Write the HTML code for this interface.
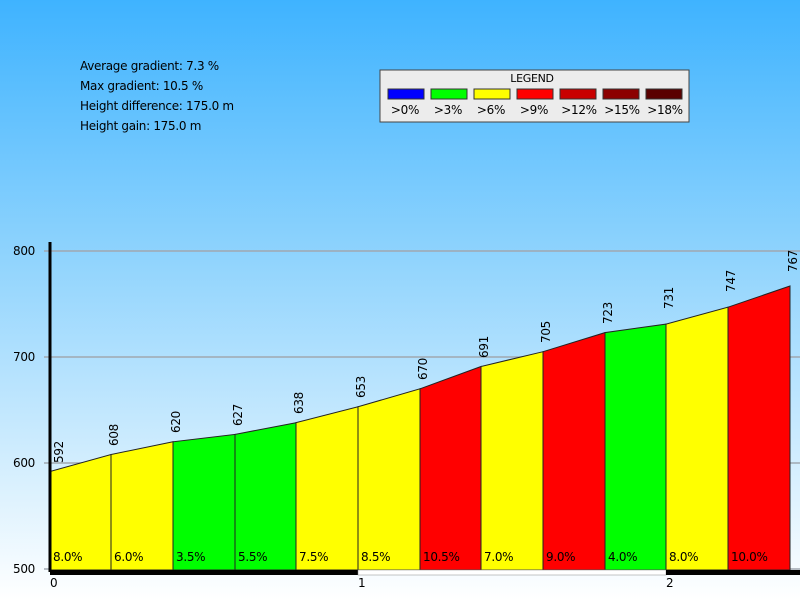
<!DOCTYPE html>
<html><head><style>
body{margin:0;width:800px;height:600px;overflow:hidden;font-family:"Liberation Sans","DejaVu Sans",sans-serif}
</style></head><body>
<svg width="800" height="600" xmlns="http://www.w3.org/2000/svg" font-family="DejaVu Sans, Liberation Sans, sans-serif" letter-spacing="-0.3">
<defs><linearGradient id="bg" x1="0" y1="0" x2="0" y2="1">
<stop offset="0" stop-color="#3fb3ff"/><stop offset="0.42" stop-color="#8ed3fd"/><stop offset="1" stop-color="#ffffff"/></linearGradient></defs>
<rect width="800" height="600" fill="url(#bg)"/>
<g font-size="12" fill="#000">
<text x="80" y="70">Average gradient: 7.3 %</text>
<text x="80" y="90">Max gradient: 10.5 %</text>
<text x="80" y="110">Height difference: 175.0 m</text>
<text x="80" y="130">Height gain: 175.0 m</text>
</g>
<rect x="380" y="70" width="309" height="52" fill="#ececec" stroke="#444" stroke-width="1"/>
<text x="532" y="82" font-size="11" text-anchor="middle">LEGEND</text>
<g stroke="#333" stroke-width="1">
<rect x="388" y="89" width="36" height="10" fill="#0000ff"/>
<rect x="431" y="89" width="36" height="10" fill="#00ff00"/>
<rect x="474" y="89" width="36" height="10" fill="#ffff00"/>
<rect x="517" y="89" width="36" height="10" fill="#ff0000"/>
<rect x="560" y="89" width="36" height="10" fill="#c80000"/>
<rect x="603" y="89" width="36" height="10" fill="#8c0000"/>
<rect x="646" y="89" width="36" height="10" fill="#5a0000"/>
</g>
<g font-size="12" text-anchor="middle">
<text x="405" y="114">&gt;0%</text><text x="448" y="114">&gt;3%</text><text x="491" y="114">&gt;6%</text><text x="534" y="114">&gt;9%</text><text x="579" y="114">&gt;12%</text><text x="622" y="114">&gt;15%</text><text x="665" y="114">&gt;18%</text>
</g>
<g stroke="#a0a8b0" stroke-width="1.5">
<line x1="44" y1="251" x2="800" y2="251"/><line x1="44" y1="357" x2="800" y2="357"/><line x1="44" y1="463" x2="800" y2="463"/><line x1="44" y1="569" x2="800" y2="569"/>
</g>
<g font-size="12" text-anchor="end">
<text x="35" y="255">800</text><text x="35" y="361">700</text><text x="35" y="467">600</text><text x="35" y="573">500</text>
</g>
<g stroke="#222" stroke-width="1">
<polygon points="50,570 50,471.5 111,454.5 111,570" fill="#ffff00"/>
<polygon points="111,570 111,454.5 173,441.8 173,570" fill="#ffff00"/>
<polygon points="173,570 173,441.8 235,434.4 235,570" fill="#00ff00"/>
<polygon points="235,570 235,434.4 296,422.7 296,570" fill="#00ff00"/>
<polygon points="296,570 296,422.7 358,406.8 358,570" fill="#ffff00"/>
<polygon points="358,570 358,406.8 420,388.8 420,570" fill="#ffff00"/>
<polygon points="420,570 420,388.8 481,366.5 481,570" fill="#ff0000"/>
<polygon points="481,570 481,366.5 543,351.7 543,570" fill="#ffff00"/>
<polygon points="543,570 543,351.7 605,332.6 605,570" fill="#ff0000"/>
<polygon points="605,570 605,332.6 666,324.1 666,570" fill="#00ff00"/>
<polygon points="666,570 666,324.1 728,307.2 728,570" fill="#ffff00"/>
<polygon points="728,570 728,307.2 790,286 790,570" fill="#ff0000"/>
</g>
<line x1="50" y1="242" x2="50" y2="572" stroke="#000" stroke-width="3"/>
<rect x="50" y="570" width="308" height="5" fill="#000"/>
<rect x="358" y="570" width="308" height="5" fill="#fff" stroke="#888" stroke-width="0.5"/>
<rect x="666" y="570" width="134" height="5" fill="#000"/>
<g font-size="12">
<text x="50" y="587">0</text><text x="358" y="587">1</text><text x="666" y="587">2</text>
</g>
<g font-size="12">
<text x="53" y="561">8.0%</text><text x="114" y="561">6.0%</text><text x="176" y="561">3.5%</text><text x="238" y="561">5.5%</text><text x="299" y="561">7.5%</text><text x="361" y="561">8.5%</text><text x="423" y="561">10.5%</text><text x="484" y="561">7.0%</text><text x="546" y="561">9.0%</text><text x="608" y="561">4.0%</text><text x="669" y="561">8.0%</text><text x="731" y="561">10.0%</text>
</g>
<g font-size="12">
<text transform="translate(63,463) rotate(-90)">592</text>
<text transform="translate(118,446) rotate(-90)">608</text>
<text transform="translate(180,433) rotate(-90)">620</text>
<text transform="translate(242,426) rotate(-90)">627</text>
<text transform="translate(303,414) rotate(-90)">638</text>
<text transform="translate(365,398) rotate(-90)">653</text>
<text transform="translate(427,380) rotate(-90)">670</text>
<text transform="translate(488,358) rotate(-90)">691</text>
<text transform="translate(550,343) rotate(-90)">705</text>
<text transform="translate(612,324) rotate(-90)">723</text>
<text transform="translate(673,309) rotate(-90)">731</text>
<text transform="translate(735,292) rotate(-90)">747</text>
<text transform="translate(797,272) rotate(-90)">767</text>
</g>
</svg>
</body></html>
